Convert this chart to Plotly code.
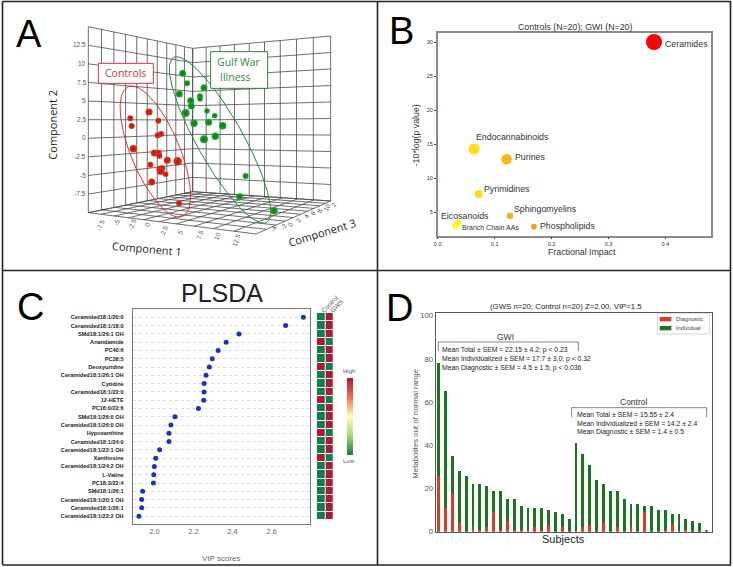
import numpy as np
import plotly.graph_objects as go

W, H = 733, 567
SANS = "Liberation Sans"
SOFT = "Open Sans"

# ---------- Panel A (read in panel units: 3 units = 1 px) ----------
controls_x = [391,395,447,475,483,473,400,463,476,478,502,533,451,480,487,482,497,455,537]
controls_y = [355,378,336,362,402,406,446,459,458,467,481,484,494,507,505,514,523,546,610]
controls_s = [6,6,7,6,6,6,7.5,7,6,6,7,8.5,6,7,6,7.5,5.5,7,6]
gwi_x = [548,561,612,538,600,572,600,574,621,557,644,626,582,668,612,646,737,719,822]
gwi_y = [220,250,263,282,289,302,297,318,333,339,347,367,370,377,418,409,528,590,632]
gwi_s = [7,6,7,7,6,7,5.5,7,5.5,8,5.5,7,7.5,7.5,8,7.5,6,7,7.5]
comp2_ticks = ["12.5","10","7.5","5","2.5","0","-2.5","-5","-7.5"]
comp1_ticks = ["-7.5","-5","-2.5","0","2.5","5","7.5","10","12.5"]
comp3_ticks = ["-4","-2","0","2","4","6","8","10","2"]

# ---------- Panel B ----------
path_names = ["Ceramides","Endocannabinoids","Purines","Pyrimidines","Sphingomyelins","Phospholipids","Eicosanoids","Branch Chain AAs"]
path_impact = [0.38,0.064,0.121,0.072,0.127,0.169,0.035,0.031]
path_logp = [30,14.3,12.8,7.7,4.5,2.9,3.4,3.0]
path_size = [16,11,10.5,8,6.5,5.8,6.5,6.5]
path_color = ["#ff0000","#ffdc14","#ffb80f","#ffdc14","#ffae1e","#fb9a1e","#ffee1a","#ffff1e"]

# ---------- Panel C ----------
vip_names = ["Ceramided18:1/20:0","Ceramided18:1/18:0","SMd18:1/26:1 OH","Anandamide","PC40:6","PC38:5","Deoxyuridine",
             "Ceramided18:1/26:1 OH","Cytidine","Ceramided18:1/22:0","12-HETE","PC16:0/22:6","SMd18:1/26:0 OH",
             "Ceramided18:1/26:0 OH","Hypoxanthine","Ceramided18:1/24:0","Ceramided18:1/22:1 OH","Xanthosine",
             "Ceramided18:1/24:2 OH","L-Valine","PC18:3/22:4","SMd18:1/26:1","Ceramided18:1/20:1 OH",
             "Ceramided18:1/26:1","Ceramided18:1/22:2 OH"]
vip_scores = [2.764,2.673,2.434,2.368,2.327,2.297,2.282,2.265,2.255,2.255,2.253,2.226,2.106,2.085,2.075,2.075,
              2.027,2.007,2.0,1.997,1.995,1.94,1.935,1.935,1.921]
control_high = [-1,-1,-1,1,-1,-1,1,-1,-1,-1,1,-1,-1,-1,1,-1,-1,1,-1,-1,-1,-1,-1,-1,-1]
gws_high = [-c for c in control_high]

# ---------- Panel D ----------
total_values = [78,65,35,28,26,22,22,21,19,19,15,15,12,11,11,11,10,9,8,6,
                41,36,31,24,22,19,19,15,13,13,12,12,10,10,8,8,6,5,4,1]
diagnostic_values = [26,11,18,4,0,2,1,2,9,1,5,1,1,1,2,1,3,0,2,0,
                     0,2,3,0,4,0,2,0,2,0,9,0,0,1,3,0,1,0,0,1]
individual_values = [t-d for t, d in zip(total_values, diagnostic_values)]
subjects = list(range(len(total_values)))
gwi_lines = ["Mean Total ± SEM = 22.15 ± 4.2; p < 0.23",
             "Mean Individualized ± SEM = 17.7 ± 3.0; p < 0.32",
             "Mean Diagnostic ± SEM = 4.5 ± 1.5; p < 0.036"]
ctl_lines = ["Mean Total ± SEM = 15.55 ± 2.4",
             "Mean Individualized ± SEM = 14.2 ± 2.4",
             "Mean Diagnostic ± SEM = 1.4 ± 0.5"]


def dx(x0, x1):
    return [x0 / W, x1 / W]


def dy(y0, y1):
    return [1 - y1 / H, 1 - y0 / H]


def homography(q):
    A, b = [], []
    for (u, v), (x, y) in zip([(0, 0), (1, 0), (1, 1), (0, 1)], q):
        A.append([u, v, 1, 0, 0, 0, -u * x, -v * x]); b.append(x)
        A.append([0, 0, 0, u, v, 1, -u * y, -v * y]); b.append(y)
    h = np.linalg.solve(np.array(A, float), np.array(b, float))
    def f(u, v):
        w = h[6] * u + h[7] * v + 1
        return (h[0] * u + h[1] * v + h[2]) / w, (h[3] * u + h[4] * v + h[5]) / w
    return f


def wall(q, nu, nv):
    f = homography(q)
    xs, ys = [], []
    for i in range(nu + 1):
        for a, b in [(i / nu, 0), (i / nu, 1)]:
            x, y = f(a, b); xs.append(x); ys.append(y)
        xs.append(None); ys.append(None)
    for j in range(nv + 1):
        for a, b in [(0, j / nv), (1, j / nv)]:
            x, y = f(a, b); xs.append(x); ys.append(y)
        xs.append(None); ys.append(None)
    return xs, ys


def ellipse(cx, cy, a, b, deg):
    t = np.linspace(0, 2 * np.pi, 160)
    th = np.radians(deg)
    return (cx + a * np.cos(t) * np.sin(th) + b * np.sin(t) * np.cos(th),
            cy + a * np.cos(t) * np.cos(th) - b * np.sin(t) * np.sin(th))


fig = go.Figure()
GL = dict(color="#4a4a4a", width=0.8)
walls = [
    ([(265, 80), (578, 145), (578, 575), (265, 638)], 10, 10),
    ([(578, 145), (992, 108), (992, 603), (578, 575)], 9, 10),
    ([(265, 638), (578, 575), (992, 603), (768, 702)], 10, 10),
]
for q, nu, nv in walls:
    xs, ys = wall(q, nu, nv)
    fig.add_trace(go.Scatter(x=xs, y=ys, mode="lines", line=GL, showlegend=False, hoverinfo="skip", xaxis="x", yaxis="y"))
ex, ey = ellipse(466, 455, 211, 73, 22.7)
fig.add_trace(go.Scatter(x=ex, y=ey, mode="lines", line=dict(color="#d8343c", width=1), showlegend=False, xaxis="x", yaxis="y"))
ex, ey = ellipse(660, 420, 284, 69, 29.4)
fig.add_trace(go.Scatter(x=ex, y=ey, mode="lines", line=dict(color="#2f7f3a", width=1), showlegend=False, xaxis="x", yaxis="y"))
fig.add_trace(go.Scatter(x=controls_x, y=controls_y, mode="markers", showlegend=False, xaxis="x", yaxis="y",
                         marker=dict(size=controls_s, color="#e8301a", line_width=0, opacity=1,
                                     gradient=dict(type="radial", color="#a81c0c"))))
fig.add_trace(go.Scatter(x=gwi_x, y=gwi_y, mode="markers", showlegend=False, xaxis="x", yaxis="y",
                         marker=dict(size=gwi_s, color="#1fae2e", line_width=0, opacity=1,
                                     gradient=dict(type="radial", color="#0d6e16"))))

# Panel B
fig.add_trace(go.Scatter(x=path_impact, y=path_logp, mode="markers", showlegend=False, xaxis="x2", yaxis="y2",
                         marker=dict(size=path_size, color=path_color, line_width=0, opacity=1)))

# Panel C
fig.add_trace(go.Scatter(x=vip_scores, y=vip_names, mode="markers", showlegend=False, xaxis="x3", yaxis="y3",
                         marker=dict(size=5, color="#1a34b4", line_width=0, opacity=1)))
fig.add_trace(go.Heatmap(x=["Control", "GWS"], y=vip_names, z=[[c, g] for c, g in zip(control_high, gws_high)],
                         xaxis="x4", yaxis="y4", xgap=1, ygap=1, zmin=-1, zmax=1,
                         colorscale=[[0, "#0f7f4c"], [0.25, "#a6d96a"], [0.5, "#ffffbf"], [0.75, "#f46d43"], [1, "#ad1a38"]],
                         colorbar=dict(x=346.5 / W, xanchor="left", y=1 - 416.5 / H, yanchor="middle",
                                       thickness=5.5, thicknessmode="pixels", len=77, lenmode="pixels",
                                       outlinewidth=0, ticks="", showticklabels=False, xpad=0, ypad=0)))

# Panel D
fig.add_trace(go.Bar(x=subjects, y=diagnostic_values, name="Diagnostic", marker=dict(color="#dc3a22", line_width=0),
                     width=0.42, xaxis="x5", yaxis="y5", showlegend=False))
fig.add_trace(go.Bar(x=subjects, y=individual_values, name="Individual", marker=dict(color="#1b7420", line_width=0),
                     width=0.42, xaxis="x5", yaxis="y5", showlegend=False))

ann = []


def T(px, py, text, size=9, color="#333", angle=0, xa="center", ya="middle", font=SANS, bold=False):
    ann.append(dict(x=px / W, y=1 - py / H, xref="paper", yref="paper", text=("<b>%s</b>" % text) if bold else text,
                    showarrow=False, xanchor=xa, yanchor=ya, textangle=angle,
                    font=dict(size=size, color=color, family=font), borderpad=0, borderwidth=0))


def TA(x, y, text, **k):
    T(x / 3, y / 3, text, **k)


# letters
T(29, 34, "A", size=38, color="#000")
T(401, 31, "B", size=38, color="#000")
T(30, 307, "C", size=38, color="#000")
T(399, 308, "D", size=38, color="#000")

# Panel A labels
for lab, yy in zip(comp2_ticks, [135, 190, 247, 303, 358, 413, 470, 525, 581]):
    TA(257, yy, lab, size=6.5, color="#555", xa="right")
for lab, xx, yy in zip(comp1_ticks, [303, 350, 395, 443, 492, 541, 597, 650, 708], [675, 668, 672, 675, 692, 695, 705, 708, 722]):
    TA(xx, yy, lab, size=6.5, color="#555", angle=-70)
for lab, xx, yy in zip(comp3_ticks, [822, 850, 870, 893, 917, 940, 958, 980, 1000], [687, 678, 672, 660, 648, 638, 630, 622, 612]):
    TA(xx, yy, lab, size=6.5, color="#555", angle=-60)
TA(440, 745, "Component 1", size=11, color="#222", angle=5, font=SOFT)
TA(965, 697, "Component 3", size=11, color="#222", angle=-17, font=SOFT)
TA(157, 373, "Component 2", size=11, color="#222", angle=-90, font=SOFT)
TA(377, 220, "Controls", size=10.5, color="#d8343c", font=SOFT)
TA(717, 186, "Gulf War", size=10.5, color="#2f8a3a", font=SOFT)
TA(705, 232, "Illness", size=10.5, color="#2f8a3a", font=SOFT)

# Panel B labels
OB = 370
def TB(x, y, s, **k):
    T(OB + x / 3, y / 3, s, **k)
TB(616, 80, "Controls (N=20); GWI (N=20)", size=8.8)
TB(636, 757, "Fractional Impact", size=8.8)
TB(137, 407, "-10*log(p value)", size=8.8, angle=-90)
for s, x, y, sz in [("Ceramides", 885, 132, 8.8), ("Endocannabinoids", 319, 411, 8.8), ("Purines", 436, 471, 8.8),
                    ("Pyrimidines", 341, 566, 8.8), ("Sphingomyelins", 432, 627, 8.8), ("Phospholipids", 509, 678, 8.8),
                    ("Eicosanoids", 213, 649, 8.8), ("Branch Chain AAs", 277, 682, 7)]:
    TB(x, y, s, size=sz, xa="left")

# Panel C labels
T(222, 293, "PLSDA", size=25, color="#222")
T(221, 558, "VIP scores", size=8, color="#666")
T(320, 314, "Control", size=6.5, color="#555", angle=-45, xa="left", ya="bottom")
T(329, 314, "GWS", size=6.5, color="#555", angle=-45, xa="left", ya="bottom")
T(349, 371, "High", size=6, color="#555")
T(349, 461, "Low", size=6, color="#555")

# Panel D labels
def TD(x, y, s, **k):
    T(370 + x / 3, 270 + y / 3, s, **k)
TD(587, 108, "(GWS n=20; Control n=20) Z=2.00, VIP=1.5", size=7.8, color="#222")
TD(580, 808, "Subjects", size=11, color="#222")
TD(134, 462, "Metabolites out of normal range", size=7.8, color="#555", angle=-90)
TD(407, 200, "GWI", size=8.5, color="#333")
TD(793, 395, "Control", size=8.5, color="#333")
for s, y in zip(gwi_lines, [241, 268, 295]):
    TD(215, y, s, size=6.8, color="#222", xa="left")
for s, y in zip(ctl_lines, [433, 460, 487]):
    TD(622, y, s, size=6.8, color="#222", xa="left")
TD(918, 148, "Diagnostic", size=5.8, color="#444", xa="left")
TD(918, 175, "Individual", size=5.8, color="#444", xa="left")

shapes = []
def line(x0, y0, x1, y1, color="#222", width=1.6):
    shapes.append(dict(type="line", xref="paper", yref="paper", x0=x0 / W, x1=x1 / W, y0=1 - y0 / H, y1=1 - y1 / H,
                       line=dict(color=color, width=width)))

def box(x0, y0, x1, y1, fill, edge=None, width=0):
    shapes.append(dict(type="rect", xref="paper", yref="paper", x0=x0 / W, x1=x1 / W, y0=1 - y0 / H, y1=1 - y1 / H,
                       fillcolor=fill, line=dict(color=edge or fill, width=width), layer="above"))

# panel frames
line(2.5, 1.5, 731, 1.5); line(2.5, 565, 731, 565); line(2.5, 1.5, 2.5, 565); line(730.5, 1.5, 730.5, 565)
line(2.5, 270.5, 731, 270.5); line(377.5, 1.5, 377.5, 565)

# labelled boxes panel A
for (x0, y0, x1, y1, col) in [(295, 190, 460, 250, "#d8343c"), (632, 155, 803, 265, "#2f7f3a")]:
    shapes.append(dict(type="rect", xref="x", yref="y", x0=x0, x1=x1, y0=y0, y1=y1, fillcolor="white",
                       line=dict(color=col, width=1), layer="above"))

# brackets panel D
def bracket(x0, x1, ytop, ybot):
    pts = [(x0, ybot, x0, ytop), (x0, ytop, x1, ytop), (x1, ytop, x1, ybot)]
    for a, b, c, d in pts:
        line(370 + a / 3, 270 + b / 3, 370 + c / 3, 270 + d / 3, color="#777", width=0.9)
bracket(205, 625, 216, 243)
bracket(605, 1010, 413, 442)

# legend panel D
box(370 + 862 / 3, 270 + 130 / 3, 370 + 1018 / 3, 270 + 192 / 3, "white", "#bbb", 0.6)
box(370 + 869 / 3, 270 + 141 / 3, 370 + 904 / 3, 270 + 154 / 3, "#dc3a22")
box(370 + 869 / 3, 270 + 168 / 3, 370 + 904 / 3, 270 + 181 / 3, "#1b7420")

hidden = dict(visible=False, fixedrange=True)
frameB = dict(showline=True, mirror=True, linecolor="#8a8a8a", linewidth=1.5, showgrid=False, zeroline=False,
              ticks="outside", ticklen=2, tickwidth=0.6, tickcolor="#444", tickfont=dict(size=5.5, color="#333", family=SANS))
frameC = dict(showline=True, mirror=True, linecolor="#777", linewidth=0.8, zeroline=False)
frameD = dict(showline=True, mirror=True, linecolor="#555", linewidth=0.9, showgrid=False, zeroline=False)

fig.update_layout(
    width=W, height=H, margin=dict(l=0, r=0, t=0, b=0, autoexpand=False), paper_bgcolor="white", plot_bgcolor="white",
    barmode="stack", annotations=ann, shapes=shapes, showlegend=False,
    font=dict(family=SANS),
    xaxis=dict(domain=dx(0, 370), range=[0, 1110], **hidden),
    yaxis=dict(domain=dy(0, 275), range=[825, 0], **hidden),
    xaxis2=dict(domain=dx(437.7, 710.7), range=[0, 0.4796], tickvals=[0, 0.1, 0.2, 0.3, 0.4], tickformat=".1f", anchor="y2", **frameB),
    yaxis2=dict(domain=dy(32.7, 235.7), range=[1.575, 31.37], tickvals=[5, 10, 15, 20, 25, 30], anchor="x2", **frameB),
    xaxis3=dict(domain=dx(132.7, 310), range=[1.889, 2.798], tickvals=[2.0, 2.2, 2.4, 2.6], tickformat=".1f", anchor="y3",
                showgrid=False, ticks="", tickfont=dict(size=7.5, color="#666"), **frameC),
    yaxis3=dict(domain=dy(309.3, 524), range=[24.95, -0.97], type="category", categoryorder="array", categoryarray=vip_names, anchor="x3",
                showgrid=True, gridcolor="#dcdcdc", griddash="dot", gridwidth=0.7, ticks="outside", ticklen=7, tickcolor="white", tickwidth=0.1,
                tickmode="array", tickvals=vip_names, tickfont=dict(size=5.6, color="#222", family=SANS, weight="bold"), **frameC),
    xaxis4=dict(domain=dx(316.7, 334), anchor="y4", **hidden),
    yaxis4=dict(domain=dy(313, 520), anchor="x4", autorange="reversed", type="category", categoryorder="array", categoryarray=vip_names, **hidden),
    xaxis5=dict(domain=dx(435.7, 711.7), range=[-0.44, 39.76], showticklabels=False, ticks="", anchor="y5", **frameD),
    yaxis5=dict(domain=dy(312.7, 531.7), range=[0, 101.4], tickvals=[0, 20, 40, 60, 80, 100], ticks="", anchor="x5",
                tickfont=dict(size=7.8, color="#555", family=SANS), **frameD),
)
fig.write_html("out.html", config={"displayModeBar": False},
               post_script="document.body.style.margin='0';document.body.style.overflow='hidden';")
